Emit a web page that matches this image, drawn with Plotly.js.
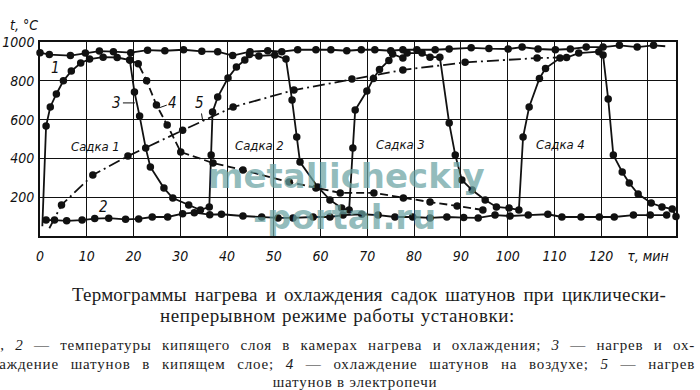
<!DOCTYPE html>
<html><head><meta charset="utf-8">
<script src="https://cdn.plot.ly/plotly-3.0.1.min.js"></script>
<style>
html,body{margin:0;padding:0;background:#fff;overflow:hidden;width:700px;height:390px;position:relative;}
#chart{position:absolute;left:0;top:0;width:700px;height:390px;}
.cap{position:absolute;font-family:"Liberation Serif","DejaVu Serif",serif;color:#1c1c1c;text-align:justify;text-align-last:justify;white-space:normal;z-index:5;}
.l1{left:72px;width:594px;top:285px;font-size:19px;line-height:19px;letter-spacing:0.2px;}
.l2{left:160px;width:355px;top:306px;font-size:19px;line-height:19px;letter-spacing:0.6px;}
.l3{left:-8px;width:703px;top:338px;font-size:15px;line-height:15px;letter-spacing:0.8px;}
.l4{left:-9px;width:704px;top:357px;font-size:15px;line-height:15px;letter-spacing:0.8px;}
.l5{left:200px;width:310px;top:375px;font-size:15px;line-height:15px;letter-spacing:0.8px;text-align:center;text-align-last:center;}
</style>
</head><body>
<div id="chart"></div>
<div class="cap l1">Термограммы нагрева и охлаждения садок шатунов при циклически-</div>
<div class="cap l2">непрерывном режиме работы установки:</div>
<div class="cap l3"><i>1</i>, <i>2</i> — температуры кипящего слоя в камерах нагрева и охлаждения; <i>3</i> — нагрев и ох-</div>
<div class="cap l4">лаждение шатунов в кипящем слое; <i>4</i> — охлаждение шатунов на воздухе; <i>5</i> — нагрев</div>
<div class="cap l5">шатунов в электропечи</div>
<script>
// Curve 1: fluidized-bed temperature, heating chamber
const x1 = [0, 2, 6.5, 9.7, 12.7, 15.7, 19.4, 23, 26.7, 30.7, 34.6, 38, 41.2, 44.9, 48.7, 51.7, 55.1, 59, 62.2, 65.6, 68.7, 71.6, 75, 77.6, 80.6, 84.5, 87.5, 92.2, 96, 100.1, 103.1, 106.5, 110.2, 113.4, 116.8, 120.4, 123.9, 127.7, 131.2, 133.7];
const y1 = [945, 935, 930, 943, 953, 950, 945, 958, 955, 960, 952, 950, 930, 950, 955, 950, 960, 960, 960, 955, 960, 960, 955, 960, 960, 960, 964, 970, 966, 964, 974, 964, 960, 964, 974, 974, 983, 974, 983, 978];
// Curve 2: fluidized-bed temperature, cooling chamber
const x2 = [1.3, 3.1, 5.7, 9, 11.7, 14.7, 18.3, 21.1, 24, 27.3, 30.5, 33, 36.3, 38.8, 43.4, 47.4, 50.9, 54.1, 58.4, 62, 64.8, 68.8, 72.3, 75.9, 79.7, 83.4, 87, 90.6, 93.7, 97.3, 100.5, 104.4, 108.6, 111.6, 115.7, 119.6, 122.8, 126.9, 130.5, 134];
const y2 = [82, 82, 78, 82, 90, 92, 86, 88, 98, 98, 115, 120, 110, 112, 103, 98, 93, 93, 98, 98, 108, 112, 108, 98, 98, 93, 98, 95, 93, 108, 103, 108, 112, 98, 98, 98, 98, 108, 108, 108];
// Curve 3: heating and cooling of rods in fluidized bed (4 batches)
const x3 = [0.5, 1.3, 2.2, 3.5, 5, 6.7, 8.7, 10.6, 13.5, 16.5, 19.2, 20.2, 21.3, 22.6, 23.6, 26.5, 28.4, 31.8, 34.3, 36.2, 36.6, 36.9, 38, 40.2, 42, 43.8, 44.8, 46.8, 50.2, 52.6, 53.9, 54.9, 55.6, 59.4, 62, 64.5, 66.1, 66.9, 67.4, 69.9, 71.3, 72.6, 74.6, 75.4, 77.6, 78.5, 81.7, 83.4, 85.5, 87.5, 88.8, 90.2, 92.4, 95.2, 97.6, 100.3, 102.4, 103.3, 104.6, 106.8, 108.1, 111.2, 112.6, 115.2, 119.5, 120.4, 121.5, 122.6, 124.5, 126, 127.9, 130.7, 133, 135.2, 136];
const y3 = [50, 567, 665, 732, 800, 850, 892, 912, 922, 920, 907, 742, 618, 454, 356, 247, 196, 160, 134, 150, 417, 639, 716, 814, 871, 907, 935, 928, 933, 912, 701, 510, 381, 253, 186, 144, 134, 454, 649, 747, 812, 858, 905, 938, 917, 943, 943, 922, 922, 582, 417, 289, 237, 186, 150, 144, 134, 510, 665, 812, 864, 917, 920, 943, 950, 933, 706, 417, 330, 273, 216, 170, 150, 139, 100];
// Curve 4: cooling of rods in air
const x4 = [19.2, 21, 22.8, 24.9, 27.2, 30.1, 37, 43.4, 53.3, 59, 64.2, 71.4, 77.7, 83.4, 89.2, 94.7];
const y4 = [907, 888, 800, 675, 572, 433, 376, 340, 278, 247, 222, 222, 196, 175, 155, 134];
// Curve 5: heating of rods in electric furnace
const x5 = [2, 4.6, 11.3, 18.8, 30.5, 41.3, 54.3, 66.7, 77.6, 90.9, 106.3, 111.3];
const y5 = [40, 160, 314, 412, 545, 665, 752, 809, 856, 895, 917, 920];

const xTickVals = [0, 10, 20, 30, 40, 50, 60, 70, 80, 90, 100, 110, 120, 130];
const xTickText = ['0', '10', '20', '30', '40', '50', '60', '70', '80', '90', '100', '110', '120', 'τ, мин'];
const yTickVals = [200, 400, 600, 800, 1000];
const yTickText = ['200', '400', '600', '800', '1000'];
const batchNames = ['Садка 1', 'Садка 2', 'Садка 3', 'Садка 4'];
const curveNames = ['1', '2', '3', '4', '5'];
const axisUnit = 't, °C';

const INK = '#111';
const FAM = '"DejaVu Sans Condensed", "Liberation Sans Narrow", "DejaVu Sans", sans-serif';
const tickFont = {family: FAM, size: 14, color: INK, style: 'italic'};
const lblFont = {family: FAM, size: 13, color: INK, style: 'italic'};
const ital = t => '<i>' + t + '</i>';

function curve(x, y, dash, skipFirst, skipLast) {
  const a = skipFirst ? 1 : 0;
  const b = skipLast ? x.length - 1 : x.length;
  return [
    {x: x, y: y, type: 'scatter', mode: 'lines', line: {color: INK, width: 1.8, dash: dash}, cliponaxis: false, hoverinfo: 'skip', showlegend: false},
    {x: x.slice(a, b), y: y.slice(a, b), type: 'scatter', mode: 'markers', marker: {color: INK, size: 7.5}, cliponaxis: false, hoverinfo: 'skip', showlegend: false}
  ];
}

const traces = [].concat(
  curve(x1, y1, 'solid', false, true),
  curve(x2, y2, 'solid', false, false),
  curve(x3, y3, 'solid', true, false),
  curve(x4, y4, '8px,4px', false, false),
  curve(x5, y5, '12px,4px,2px,4px', true, true)
);

const numFont = {...tickFont, size: 15};
const wmFont = {family: '"DejaVu Sans", sans-serif', size: 34, color: 'rgba(105,162,162,0.72)'};
const annotations = [
  {xref: 'paper', yref: 'paper', x: -0.025, y: 1.088, xanchor: 'center', yanchor: 'middle', text: ital(axisUnit), showarrow: false, font: tickFont},
  {x: 3.4, y: 866, text: ital(curveNames[0]), showarrow: false, font: numFont},
  {x: 13.5, y: 150, text: ital(curveNames[1]), showarrow: false, font: numFont},
  {x: 20.3, y: 686, ax: -18, ay: 0, text: ital(curveNames[2]), showarrow: true, arrowhead: 0, arrowwidth: 1, arrowcolor: INK, font: numFont},
  {x: 25.4, y: 660, ax: 14, ay: -5, text: ital(curveNames[3]), showarrow: true, arrowhead: 0, arrowwidth: 1, arrowcolor: INK, font: numFont},
  {x: 34.8, y: 593, ax: -3, ay: -18, text: ital(curveNames[4]), showarrow: true, arrowhead: 0, arrowwidth: 1, arrowcolor: INK, font: numFont},
  {x: 11.8, y: 459, text: ital(batchNames[0]), showarrow: false, font: lblFont},
  {x: 47, y: 469, text: ital(batchNames[1]), showarrow: false, font: lblFont},
  {x: 77, y: 474, text: ital(batchNames[2]), showarrow: false, font: lblFont},
  {x: 111.2, y: 474, text: ital(batchNames[3]), showarrow: false, font: lblFont},
  {x: 65.6, y: 307, text: '<b>metallicheckiy</b>', showarrow: false, font: wmFont},
  {x: 65.2, y: 100, text: '<b>-portal.ru</b>', showarrow: false, font: wmFont}
];

const layout = {
  width: 700, height: 390,
  margin: {l: 40, r: 24, t: 42, b: 154, pad: 0},
  paper_bgcolor: '#fff', plot_bgcolor: '#fff',
  showlegend: false,
  xaxis: {range: [0, 136], tickvals: xTickVals, ticktext: xTickText.map(ital), showgrid: true, gridcolor: '#111', gridwidth: 1,
          zeroline: false, showline: true, mirror: true, linecolor: INK, linewidth: 1.8, ticks: '', tickfont: tickFont, ticklabelstandoff: 6},
  yaxis: {range: [0, 1000], tickvals: yTickVals, ticktext: yTickText.map(ital), showgrid: true, gridcolor: '#111', gridwidth: 1,
          zeroline: false, showline: true, mirror: true, linecolor: INK, linewidth: 1.8, ticks: '', tickfont: tickFont, ticklabelstandoff: 1},
  annotations: annotations
};

Plotly.newPlot('chart', traces, layout, {staticPlot: true, displayModeBar: false});
</script>
</body></html>
